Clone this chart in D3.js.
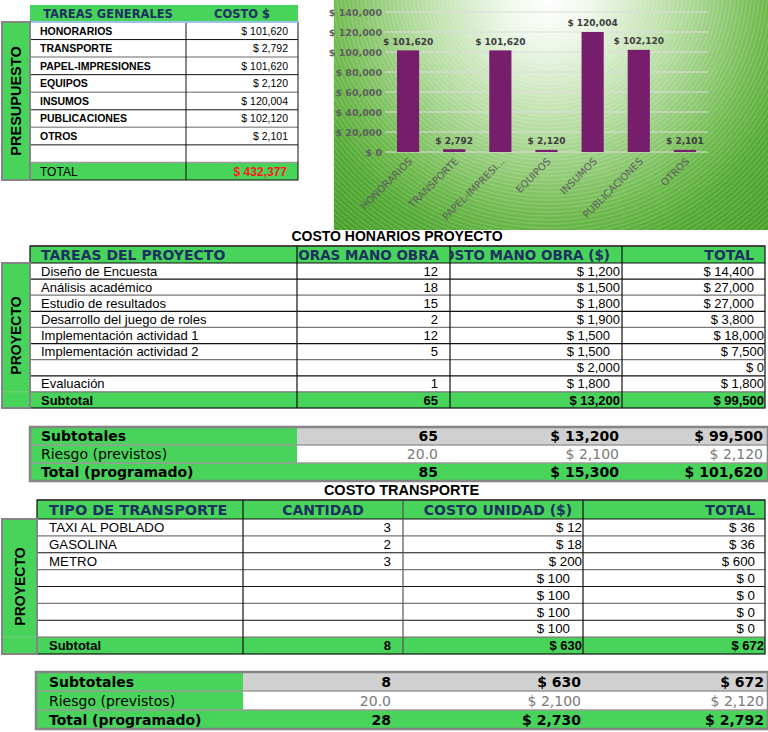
<!DOCTYPE html>
<html><head><meta charset="utf-8">
<script src="https://cdn.jsdelivr.net/npm/d3@7"></script>
<style>body{margin:0;background:#fff}svg{display:block}</style>
</head><body><svg id="c" width="768" height="732"></svg>
<script>
// ---------------- DATA ----------------
const budgetTasks = ["HONORARIOS","TRANSPORTE","PAPEL-IMPRESIONES","EQUIPOS","INSUMOS","PUBLICACIONES","OTROS"];
const budgetCosts = [101620,2792,101620,2120,120004,102120,2101];
const budgetTotal = 432377;
const chartLabels = ["HONORARIOS","TRANSPORTE","PAPEL-IMPRESI...","EQUIPOS","INSUMOS","PUBLICACIONES","OTROS"];
const yTicks = [0,20000,40000,60000,80000,100000,120000,140000];

const honHeaders = ["TAREAS DEL PROYECTO","HORAS MANO OBRA","COSTO MANO OBRA ($)","TOTAL"];
const honTasks = ["Diseño de Encuesta","Análisis académico","Estudio de resultados","Desarrollo del juego de roles","Implementación actividad 1","Implementación actividad 2","","Evaluación"];
const honHours = [12,18,15,2,12,5,null,1];
const honRate = [1200,1500,1800,1900,1500,1500,2000,1800];
const honTotal = [14400,27000,27000,3800,18000,7500,0,1800];
const honSubtotal = [65,13200,99500];
const honRisk = [20.0,2100,2120];
const honProgram = [85,15300,101620];

const trHeaders = ["TIPO DE TRANSPORTE","CANTIDAD","COSTO UNIDAD ($)","TOTAL"];
const trTypes = ["TAXI AL POBLADO","GASOLINA","METRO","","","",""];
const trQty = [3,2,3,null,null,null,null];
const trUnit = [12,18,200,100,100,100,100];
const trTotal = [36,36,600,0,0,0,0];
const trSubtotal = [8,630,672];
const trRisk = [20.0,2100,2120];
const trProgram = [28,2730,2792];

const summaryLabels = ["Subtotales","Riesgo (previstos)","Total (programado)"];

// ---------------- STYLE ----------------
const GREEN="#48d45b", NAVY="#1b3160", GRAYB="#858585", LGRAY="#d0d0d0";
const SANS="'Liberation Sans', Arial, sans-serif", DJ="'DejaVu Sans', sans-serif";
const honRatePad = [2,2,2,2,12,12,2,12];
const honTotalPad = [11,11,11,11,1,1,1,1];
const trUnitPad = [1,1,1,13,13,13,13];

const money = v => "$ " + d3.format(",")(v);
const svg = d3.select("#c");

function T(x,y,s,o={}){
  return svg.append("text").attr("x",x).attr("y",y)
    .attr("text-anchor",o.anchor||"start")
    .style("font-family",o.font||SANS).style("font-size",(o.size||13)+"px")
    .style("font-weight",o.weight||"normal").attr("fill",o.fill||"#000")
    .attr("clip-path",o.clip||null).text(s);
}
function R(x,y,w,h,fill,stroke,sw){
  return svg.append("rect").attr("x",x).attr("y",y).attr("width",w).attr("height",h)
    .attr("fill",fill||"none").attr("stroke",stroke||"none").attr("stroke-width",sw||1);
}
function L(x1,y1,x2,y2,c,w){
  return svg.append("line").attr("x1",x1).attr("y1",y1).attr("x2",x2).attr("y2",y2)
    .attr("stroke",c||"#000").attr("stroke-width",w||1);
}
function vlabel(x0,y0,x1,y1,s,size){
  R(x0,y0,x1-x0,y1-y0,GREEN,GRAYB,2);
  const cx=(x0+x1)/2, cy=(y0+y1)/2;
  svg.append("text").attr("transform",`translate(${cx},${cy}) rotate(-90)`)
    .attr("text-anchor","middle").attr("dominant-baseline","central")
    .style("font-family",SANS).style("font-size",size+"px").style("font-weight","bold")
    .text(s);
}
const defs = svg.append("defs");
function clip(id,x,y,w,h){
  defs.append("clipPath").attr("id",id).append("rect").attr("x",x).attr("y",y).attr("width",w).attr("height",h);
  return `url(#${id})`;
}

// ---------------- PRESUPUESTO TABLE ----------------
{
  const pY = d3.scaleLinear().domain([0,9]).range([22,180]);
  const xL=30, xM=186, xR=298;
  R(xL,5,xR-xL,17,GREEN);
  T((xL+xM)/2,17.8,"TAREAS GENERALES",{anchor:"middle",font:DJ,size:11.5,weight:"bold",fill:NAVY});
  T((xM+xR)/2,17.8,"COSTO $",{anchor:"middle",font:DJ,size:11.5,weight:"bold",fill:NAVY});
  R(xL,pY(0),xR-xL,pY(8)-pY(0),"#fff");
  R(xL,pY(8),xR-xL,pY(9)-pY(8),GREEN);
  budgetTasks.forEach((t,i)=>{
    const yb=(pY(i)+pY(i+1))/2+3.9;
    T(40,yb,t,{size:10.5,weight:"bold"});
    T(288,yb,money(budgetCosts[i]),{anchor:"end",size:10.5});
  });
  d3.range(1,9).forEach(i=>L(xL,pY(i),xR,pY(i),i%2?"#111":"#9a9a9a",i%2?1:1.5));
  const yt=(pY(8)+pY(9))/2+4.3;
  T(40,yt,"TOTAL",{size:12});
  T(287,yt,money(budgetTotal),{anchor:"end",size:12,weight:"bold",fill:"#ff1a1a"});
  L(xM,pY(0),xM,pY(9),"#111",1);
  R(xL,pY(0),xR-xL,pY(9)-pY(0),"none","#111",1);
  L(xL,22,xR,22,"#9cc3e6",2);
  vlabel(2,22,30,180,"PRESUPUESTO",14.5);
}

// ---------------- CHART ----------------
{
  const cx0=333, cw=435, ch=230;
  const g = defs.append("radialGradient").attr("id","bg").attr("gradientUnits","userSpaceOnUse")
    .attr("cx",548).attr("cy",0).attr("r",300).attr("fx",548).attr("fy",0);
  [[0,"#ffffff"],[0.15,"#eef7e9"],[0.45,"#b3db9d"],[0.72,"#6fba4e"],[0.85,"#55aa36"],[1,"#4aa22d"]]
    .forEach(([o,c])=>g.append("stop").attr("offset",o).attr("stop-color",c));
  R(cx0,0,cw,ch,"url(#bg)");
  const cp = clip("chartclip",cx0,0,cw,ch);
  svg.append("g").attr("clip-path",cp).selectAll("circle").data(d3.range(20,330,4)).join("circle")
    .attr("cx",548).attr("cy",-20).attr("r",d=>d).attr("fill","none")
    .attr("stroke","#ffffff").attr("stroke-opacity",0.15).attr("stroke-width",1.4);
  L(cx0+0.5,0,cx0+0.5,ch,"#e8f3e2",1);

  const x = d3.scaleBand().domain(chartLabels).range([385,708]).paddingInner(0.52).paddingOuter(0.26);
  const y = d3.scaleLinear().domain([0,140000]).range([152,12]);

  svg.append("g").selectAll("line").data(yTicks).join("line")
    .attr("x1",385).attr("x2",708).attr("y1",d=>y(d)).attr("y2",d=>y(d))
    .attr("stroke","#dcdcdc").attr("stroke-width",1);

  svg.append("g").selectAll("rect").data(budgetCosts).join("rect")
    .attr("x",(d,i)=>x(chartLabels[i])).attr("width",x.bandwidth())
    .attr("y",d=>y(d)).attr("height",d=>y(0)-y(d)).attr("fill","#761d6b");

  svg.append("g").selectAll("text").data(budgetCosts).join("text")
    .attr("x",(d,i)=>x(chartLabels[i])+x.bandwidth()/2).attr("y",d=>y(d)-5.5)
    .attr("text-anchor","middle").style("font-family",DJ).style("font-size","9px")
    .style("font-weight","bold").attr("fill","#3d3d3d").text(d=>money(d));

  const ya = svg.append("g").attr("transform","translate(385,0)")
    .call(d3.axisLeft(y).tickValues(yTicks).tickSize(0).tickPadding(3).tickFormat(money));
  ya.select(".domain").remove();
  ya.selectAll("text").style("font-family",DJ).style("font-size","9.5px").style("font-weight","bold").attr("fill","#5e5e5e");

  const xa = svg.append("g").attr("transform","translate(0,152)")
    .call(d3.axisBottom(x).tickSize(0));
  xa.select(".domain").remove();
  xa.selectAll("text").attr("x",0).attr("y",0).attr("dy",0)
    .attr("transform","translate(5,10) rotate(-45)").style("text-anchor","end")
    .style("font-family",DJ).style("font-size","10px").attr("fill","#5e5e5e");
}

// ---------------- HONORARIOS TABLE ----------------
{
  T(397,241,"COSTO HONARIOS PROYECTO",{anchor:"middle",size:14,weight:"bold"});
  const cols=[30,297,450,622,765];
  const hY = d3.scaleLinear().domain([0,9]).range([263,408]);
  R(cols[0],246,cols[4]-cols[0],17,GREEN);
  const hb=259.5;
  T(41,hb,honHeaders[0],{font:DJ,size:14,weight:"bold",fill:NAVY});
  T(cols[2]-11,hb,honHeaders[1],{anchor:"end",font:DJ,size:13.5,weight:"bold",fill:NAVY,clip:clip("hc1",cols[1],246,cols[2]-cols[1],17)});
  T(cols[3]-12,hb,honHeaders[2],{anchor:"end",font:DJ,size:13.5,weight:"bold",fill:NAVY,clip:clip("hc2",cols[2],246,cols[3]-cols[2],17)});
  T(cols[4]-11,hb,honHeaders[3],{anchor:"end",font:DJ,size:14,weight:"bold",fill:NAVY});
  R(cols[0],hY(0),cols[4]-cols[0],hY(8)-hY(0),"#fff");
  R(cols[0],hY(8),cols[4]-cols[0],hY(9)-hY(8),GREEN);
  honTasks.forEach((t,i)=>{
    const yb=(hY(i)+hY(i+1))/2+4.6;
    T(41,yb,t,{size:13});
    if(honHours[i]!==null) T(cols[2]-12,yb,honHours[i],{anchor:"end",size:13});
    T(cols[3]-honRatePad[i],yb,money(honRate[i]),{anchor:"end",size:13});
    T(cols[4]-honTotalPad[i],yb,money(honTotal[i]),{anchor:"end",size:13});
  });
  const ys=(hY(8)+hY(9))/2+4.6;
  T(41,ys,"Subtotal",{size:13,weight:"bold"});
  T(cols[2]-12,ys,honSubtotal[0],{anchor:"end",size:13,weight:"bold"});
  T(cols[3]-2,ys,money(honSubtotal[1]),{anchor:"end",size:13,weight:"bold"});
  T(cols[4]-1,ys,money(honSubtotal[2]),{anchor:"end",size:13,weight:"bold"});
  d3.range(0,9).forEach(i=>L(cols[0],hY(i),cols[4],hY(i),i===0||i%2?"#111":"#777",1.2));
  L(cols[0],246,cols[4],246,GRAYB,1.5);
  [1,2,3].forEach(j=>L(cols[j],246,cols[j],408,"#111",1.2));
  R(cols[0],246,cols[4]-cols[0],408-246,"none","#111",1.2);
  vlabel(2,263,30,408,"PROYECTO",14);
  L(3,hY(8),29,hY(8),"#6fd07e",1);

  // summary
  const sY = d3.scaleLinear().domain([0,3]).range([427,481]);
  const sx0=30, sx1=297, sx2=768;
  R(sx0,sY(0),sx1-sx0,sY(2)-sY(0),GREEN);
  R(sx1,sY(0),sx2-sx1,sY(1)-sY(0),LGRAY);
  R(sx1,sY(1),sx2-sx1,sY(2)-sY(1),"#fff");
  R(sx0,sY(2),sx2-sx0,sY(3)-sY(2),GREEN);
  const rows=[honSubtotal,honRisk,honProgram];
  const ends=[438,619,763];
  rows.forEach((r,i)=>{
    const yb=(sY(i)+sY(i+1))/2+5;
    const w = i===1?"normal":"bold", f = i===1?"#7a7a7a":"#000";
    T(41,yb,summaryLabels[i],{font:DJ,size:14,weight:w});
    T(ends[0],yb,i===1?d3.format(".1f")(r[0]):r[0],{anchor:"end",font:DJ,size:14,weight:w,fill:f});
    T(ends[1],yb,money(r[1]),{anchor:"end",font:DJ,size:14,weight:w,fill:f});
    T(ends[2],yb,money(r[2]),{anchor:"end",font:DJ,size:14,weight:w,fill:f});
  });
  [1,2].forEach(i=>L(sx0,sY(i),sx2,sY(i),"#9a9a9a",1.5));
  R(sx0,sY(0),sx2-sx0,sY(3)-sY(0),"none",GRAYB,2.5);
}

// ---------------- TRANSPORTE TABLE ----------------
{
  T(401.5,495,"COSTO TRANSPORTE",{anchor:"middle",size:14.5,weight:"bold"});
  const cols=[37,243,403,583,765];
  const tY = d3.scaleLinear().domain([0,8]).range([519,654]);
  R(cols[0],500,cols[4]-cols[0],19,GREEN);
  const hb=514.5;
  T(49,hb,trHeaders[0],{font:DJ,size:14.5,weight:"bold",fill:NAVY});
  T((cols[1]+cols[2])/2,hb,trHeaders[1],{anchor:"middle",font:DJ,size:14,weight:"bold",fill:NAVY});
  T((cols[2]+cols[3])/2+5,hb,trHeaders[2],{anchor:"middle",font:DJ,size:14,weight:"bold",fill:NAVY});
  T(cols[4]-10,hb,trHeaders[3],{anchor:"end",font:DJ,size:14,weight:"bold",fill:NAVY});
  R(cols[0],tY(0),cols[4]-cols[0],tY(7)-tY(0),"#fff");
  R(cols[0],tY(7),cols[4]-cols[0],tY(8)-tY(7),GREEN);
  trTypes.forEach((t,i)=>{
    const yb=(tY(i)+tY(i+1))/2+4.8;
    T(49,yb,t,{size:13.3});
    if(trQty[i]!==null) T(cols[2]-12,yb,trQty[i],{anchor:"end",size:13.3});
    T(cols[3]-trUnitPad[i],yb,money(trUnit[i]),{anchor:"end",size:13.3});
    T(cols[4]-10,yb,money(trTotal[i]),{anchor:"end",size:13.3});
  });
  const ys=(tY(7)+tY(8))/2+4.8;
  T(49,ys,"Subtotal",{size:13,weight:"bold"});
  T(cols[2]-12,ys,trSubtotal[0],{anchor:"end",size:13,weight:"bold"});
  T(cols[3]-1,ys,money(trSubtotal[1]),{anchor:"end",size:13,weight:"bold"});
  T(cols[4]-1,ys,money(trSubtotal[2]),{anchor:"end",size:13,weight:"bold"});
  d3.range(0,8).forEach(i=>L(cols[0],tY(i),cols[4],tY(i),i%2?"#777":"#111",1.2));
  L(cols[0],500,cols[4],500,GRAYB,1.5);
  [1,2,3].forEach(j=>L(cols[j],500,cols[j],654,j===2?"#555":"#111",1.2));
  R(cols[0],500,cols[4]-cols[0],654-500,"none","#111",1.2);
  vlabel(2,519,37,654,"PROYECTO",14);
  L(3,tY(7),36,tY(7),"#6fd07e",1);

  const sY = d3.scaleLinear().domain([0,3]).range([672,729]);
  const sx0=36, sx1=243, sx2=768;
  R(sx0,sY(0),sx1-sx0,sY(2)-sY(0),GREEN);
  R(sx1,sY(0),sx2-sx1,sY(1)-sY(0),LGRAY);
  R(sx1,sY(1),sx2-sx1,sY(2)-sY(1),"#fff");
  R(sx0,sY(2),sx2-sx0,sY(3)-sY(2),GREEN);
  const rows=[trSubtotal,trRisk,trProgram];
  const ends=[391,581,764];
  rows.forEach((r,i)=>{
    const yb=(sY(i)+sY(i+1))/2+5;
    const w = i===1?"normal":"bold", f = i===1?"#7a7a7a":"#000";
    T(49,yb,summaryLabels[i],{font:DJ,size:14,weight:w});
    T(ends[0],yb,i===1?d3.format(".1f")(r[0]):r[0],{anchor:"end",font:DJ,size:14,weight:w,fill:f});
    T(ends[1],yb,money(r[1]),{anchor:"end",font:DJ,size:14,weight:w,fill:f});
    T(ends[2],yb,money(r[2]),{anchor:"end",font:DJ,size:14,weight:w,fill:f});
  });
  [1,2].forEach(i=>L(sx0,sY(i),sx2,sY(i),"#9a9a9a",1.5));
  R(sx0,sY(0),sx2-sx0,sY(3)-sY(0),"none",GRAYB,2.5);
}
</script></body></html>
